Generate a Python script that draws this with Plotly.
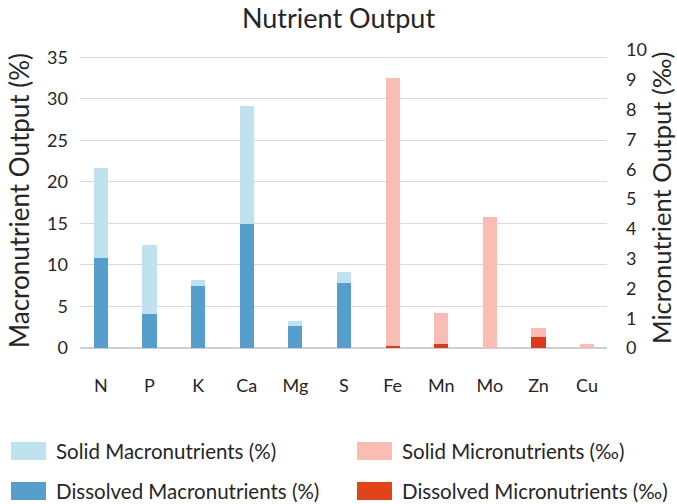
import plotly.graph_objects as go

macro_cats = ["N", "P", "K", "Ca", "Mg", "S"]
micro_cats = ["Fe", "Mn", "Mo", "Zn", "Cu"]
all_cats = macro_cats + micro_cats

macro_dissolved = [10.86, 4.14, 7.5, 14.94, 2.7, 7.86]
macro_solid = [10.81, 8.28, 0.72, 14.16, 0.6, 1.32]
micro_dissolved = [0.06, 0.13, 0.0, 0.36, 0.0]
micro_solid = [9.0, 1.03, 4.41, 0.32, 0.12]

left_ticks = [0, 5, 10, 15, 20, 25, 30, 35]
right_ticks = list(range(0, 11))

FONT = "Lato, 'DejaVu Sans', sans-serif"
TXT = "#262626"
C_SOLID_MACRO = "#BEE3EF"
C_DISS_MACRO = "#569FCD"
C_SOLID_MICRO = "#FABDB4"
C_DISS_MICRO = "#DC3A1C"
BW = 0.29

fig = go.Figure()
fig.add_bar(x=macro_cats, y=macro_dissolved, name="Dissolved Macronutrients (%)",
            marker_color=C_DISS_MACRO, width=BW, yaxis="y")
fig.add_bar(x=macro_cats, y=macro_solid, name="Solid Macronutrients (%)",
            marker_color=C_SOLID_MACRO, width=BW, yaxis="y")
fig.add_bar(x=micro_cats, y=micro_dissolved, name="Dissolved Micronutrients (‰)",
            marker_color=C_DISS_MICRO, width=BW, yaxis="y2")
fig.add_bar(x=micro_cats, y=micro_solid, name="Solid Micronutrients (‰)",
            marker_color=C_SOLID_MICRO, width=BW, yaxis="y2")
fig.update_traces(marker_line_width=0, showlegend=False)

fig.update_layout(
    width=677, height=504,
    margin=dict(l=80, r=70, t=50, b=156),
    barmode="stack",
    plot_bgcolor="white", paper_bgcolor="white",
    font=dict(family=FONT, color=TXT),
    title=dict(text="Nutrient Output", x=0.5, xanchor="center", y=0.963, yanchor="middle",
               font=dict(size=27, color=TXT, family=FONT)),
    xaxis=dict(type="category", categoryorder="array", categoryarray=all_cats,
               range=[-0.43, 10.41], showgrid=False, showline=False, zeroline=False,
               tickfont=dict(size=18, color=TXT), ticklabelstandoff=25),
    yaxis=dict(range=[0, 35.88], tickvals=left_ticks, showgrid=True, gridcolor="#D9D9D9",
               gridwidth=1.3, zeroline=True, zerolinecolor="#CFCFCF", zerolinewidth=2,
               showline=False, tickfont=dict(size=18, color=TXT), ticklabelstandoff=11),
    yaxis2=dict(range=[0, 10], tickvals=right_ticks, overlaying="y", side="right",
                showgrid=False, zeroline=False, showline=False,
                tickfont=dict(size=18, color=TXT), ticklabelstandoff=18),
)

pw = 677 - 80 - 70
ph = 504 - 50 - 156
def px_to_paper_x(px):
    return (px - 80) / pw
def px_to_paper_y(py):
    return (504 - 156 - py) / ph

# Axis titles
fig.add_annotation(text="Macronutrient Output (%)", xref="paper", yref="paper",
                   x=px_to_paper_x(19), y=px_to_paper_y(201), xanchor="center", yanchor="middle",
                   textangle=-90, showarrow=False, font=dict(size=26, color=TXT, family=FONT))
fig.add_annotation(text="Micronutrient Output (‰)", xref="paper", yref="paper",
                   x=px_to_paper_x(661), y=px_to_paper_y(198), xanchor="center", yanchor="middle",
                   textangle=-90, showarrow=False, font=dict(size=25.5, color=TXT, family=FONT))

# Custom legend (large swatches as in the reference)
legend_items = [
    ("Solid Macronutrients (%)", C_SOLID_MACRO, 11, 451),
    ("Solid Micronutrients (‰)", C_SOLID_MICRO, 357, 451),
    ("Dissolved Macronutrients (%)", C_DISS_MACRO, 11, 491),
    ("Dissolved Micronutrients (‰)", "#E04418", 357, 491),
]
for label, col, lx, ly in legend_items:
    fig.add_shape(type="rect", xref="paper", yref="paper",
                  x0=px_to_paper_x(lx), x1=px_to_paper_x(lx + 35),
                  y0=px_to_paper_y(ly + 9), y1=px_to_paper_y(ly - 9),
                  fillcolor=col, line_width=0)
    fig.add_annotation(text=label, xref="paper", yref="paper",
                       x=px_to_paper_x(lx + 43), y=px_to_paper_y(ly),
                       xanchor="left", yanchor="middle", showarrow=False,
                       font=dict(size=20.5, color=TXT, family=FONT))

fig.write_html("out.html", config={"displayModeBar": False},
               post_script="document.body.style.margin='0';")
